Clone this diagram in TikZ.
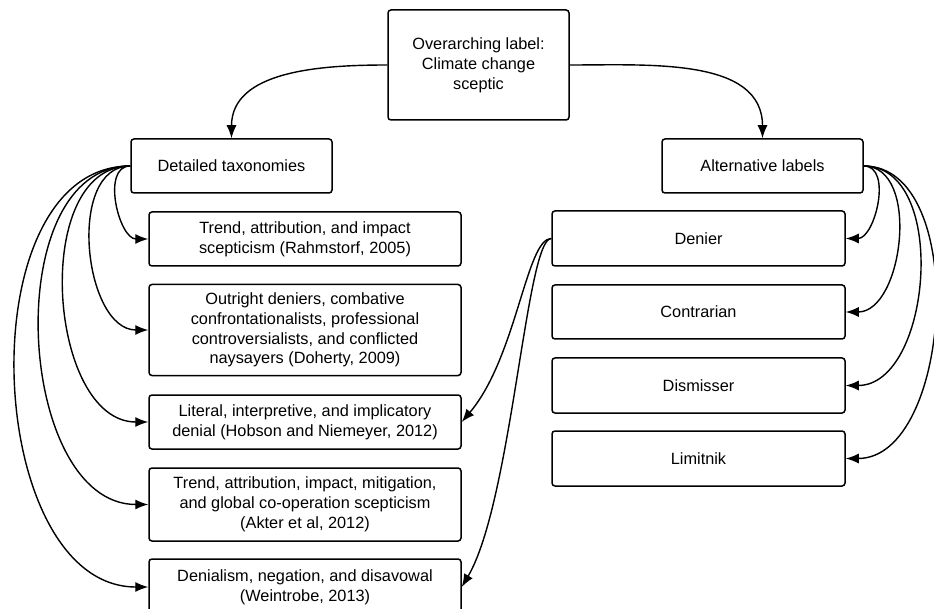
\documentclass[tikz,border=0pt]{standalone}
\usepackage{fontspec}
\setmainfont{Liberation Sans}
\usetikzlibrary{arrows.meta}
\tikzset{
	label box/.style={draw,line width=1.5pt,rounded corners=3pt,align=center,inner sep=2pt,font=\fontsize{16.3}{19.8}\selectfont},
	link/.style={line width=1.4pt,-{Latex[length=13pt,width=10pt]}}
}
\begin{document}
\begin{tikzpicture}[x=1pt,y=-1pt]
	\useasboundingbox (0,0) rectangle (934,609);
	% overarching label
		\node[label box,minimum width=181pt,minimum height=110pt] (sceptic) at (478.5,65) {Overarching label:\\Climate change\\sceptic};
	% the two branches
		\node[label box,minimum width=201pt,minimum height=54pt] (taxa) at (231.5,166) {Detailed taxonomies};
		\node[label box,minimum width=201pt,minimum height=54pt] (alts) at (762.5,166) {Alternative labels};
		\draw[link] (sceptic.west) to[out=180,in=90] (taxa.north);
		\draw[link] (sceptic.east) to[out=0,in=90] (alts.north);
	% detailed taxonomies
		\node[label box,minimum width=312pt,minimum height=54pt] (tax1) at (305,239) {Trend, attribution, and impact\\scepticism (Rahmstorf, 2005)};
		\node[label box,minimum width=312pt,minimum height=91pt] (tax2) at (305,330) {Outright deniers, combative\\confrontationalists, professional\\controversialists, and conflicted\\naysayers (Doherty, 2009)};
		\node[label box,minimum width=312pt,minimum height=54pt] (tax3) at (305,422) {Literal, interpretive, and implicatory\\denial (Hobson and Niemeyer, 2012)};
		\node[label box,minimum width=312pt,minimum height=73pt] (tax4) at (305,504.5) {Trend, attribution, impact, mitigation,\\and global co-operation scepticism\\(Akter et al, 2012)};
		\node[label box,minimum width=312pt,minimum height=56pt] (tax5) at (305,587) {Denialism, negation, and disavowal\\(Weintrobe, 2013)};
		\foreach \n in {1,...,5}
			\draw[link] (taxa.west) to[out=180,in=180] (tax\n.west);
	% alternative labels
		\node[label box,minimum width=293pt,minimum height=55pt] (alt1) at (698.5,238.5) {Denier};
		\node[label box,minimum width=293pt,minimum height=54pt] (alt2) at (698.5,312) {Contrarian};
		\node[label box,minimum width=293pt,minimum height=55pt] (alt3) at (698.5,385.5) {Dismisser};
		\node[label box,minimum width=293pt,minimum height=55pt] (alt4) at (698.5,458.5) {Limitnik};
		\foreach \n/\l in {1/1,2/1,3/1,4/0.93}
			\draw[link] (alts.east) to[out=0,in=0,looseness=\l] (alt\n.east);
	% denier also covers two taxonomies
		\draw[link] (alt1.west) .. controls +(-25,0) and +(55,-65) .. (tax3.east);
		\draw[link] (alt1.west) .. controls +(-25,0) and +(50,-85) .. (tax5.east);
\end{tikzpicture}
\end{document}
